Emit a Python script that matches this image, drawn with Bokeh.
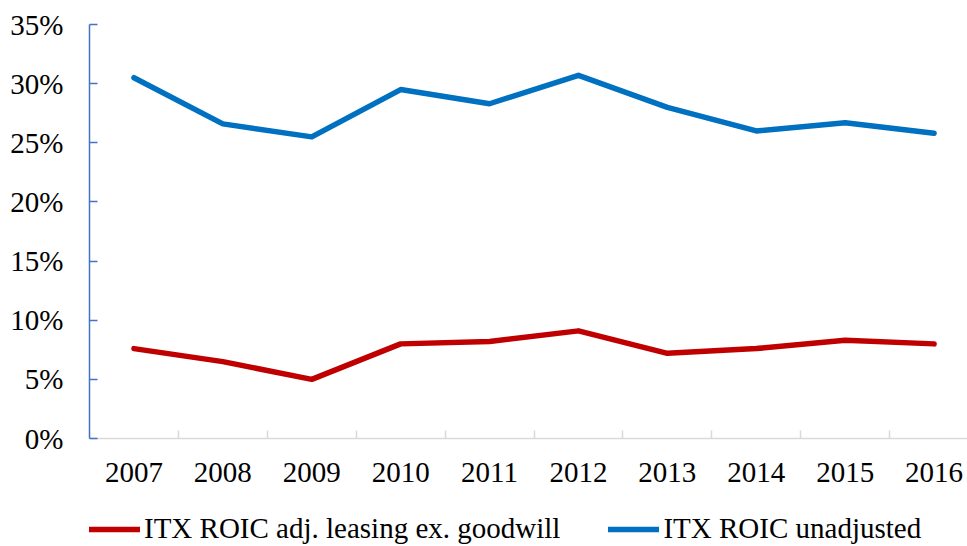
from bokeh.plotting import figure
from bokeh.models import (Range1d, FixedTicker, NumeralTickFormatter, Legend,
                          LegendItem, BasicTickFormatter)
from bokeh.embed import file_html
from bokeh.resources import INLINE

# ROIC by fiscal year
years = [2007, 2008, 2009, 2010, 2011, 2012, 2013, 2014, 2015, 2016]
roic_adj_leasing = [0.076, 0.065, 0.050, 0.080, 0.082, 0.091, 0.072, 0.076, 0.083, 0.080]
roic_unadjusted = [0.305, 0.266, 0.255, 0.295, 0.283, 0.307, 0.280, 0.260, 0.267, 0.258]
y_ticks = [0.0, 0.05, 0.10, 0.15, 0.20, 0.25, 0.30, 0.35]

FONT = "Liberation Serif"
RED = "#C00000"
BLUE = "#0070C0"

# The frame runs to the bottom edge; the lower strip (below 0%) holds the
# year labels and the legend, while the axes are bounded to the data area.
p = figure(frame_width=878, frame_height=522, output_backend="svg", toolbar_location=None,
           x_range=Range1d(2006.5, 2016.376), y_range=Range1d(-0.0913, 0.35),
           min_border_left=89, min_border_right=0, min_border_top=24,
           min_border_bottom=0)
p.outline_line_color = None
p.background_fill_color = "white"
p.border_fill_color = "white"
p.xgrid.visible = False
p.ygrid.visible = False

r_red = p.line(years, roic_adj_leasing, line_color=RED, line_width=5.5,
               line_cap="round", line_join="round")
r_blue = p.line(years, roic_unadjusted, line_color=BLUE, line_width=5.5,
                line_cap="round", line_join="round")

# y axis: percentage labels, inward ticks
ya = p.yaxis[0]
ya.ticker = FixedTicker(ticks=y_ticks)
ya.bounds = (0, 0.35)
ya.formatter = NumeralTickFormatter(format="0%")
ya.axis_line_color = "#4472C4"
ya.axis_line_width = 1.5
ya.major_tick_line_color = "#4472C4"
ya.major_tick_line_width = 1.5
ya.major_tick_in = 8
ya.major_tick_out = 0
ya.minor_tick_line_color = None
ya.major_label_text_font = FONT
ya.major_label_text_font_size = "29px"
ya.major_label_text_color = "black"
ya.major_label_standoff = 26

# x axis sits on the 0% line: year labels centred, tick marks between years
xa = p.xaxis[0]
xa.fixed_location = 0
half_steps = [y - 0.5 for y in years] + [years[-1] + 0.5]
xa.ticker = FixedTicker(ticks=years, minor_ticks=half_steps)
xa.formatter = BasicTickFormatter(use_scientific=False)
xa.axis_line_color = "#D9D9D9"
xa.axis_line_width = 1.5
xa.major_tick_line_color = None
xa.minor_tick_line_color = "#D9D9D9"
xa.minor_tick_line_width = 1.5
xa.minor_tick_in = 8
xa.minor_tick_out = 0
xa.major_label_text_font = FONT
xa.major_label_text_font_size = "29px"
xa.major_label_text_color = "black"
xa.major_label_standoff = 18

legend = Legend(items=[LegendItem(label="ITX ROIC adj. leasing ex. goodwill", renderers=[r_red]),
                       LegendItem(label="ITX ROIC unadjusted", renderers=[r_blue])],
                orientation="horizontal", location=(0, 1),
                label_text_font=FONT, label_text_font_size="29px",
                label_text_color="black", glyph_width=51, glyph_height=20,
                label_standoff=4, spacing=48, padding=0, margin=0,
                border_line_color=None, background_fill_alpha=0)
p.add_layout(legend, "center")

open("out.html", "w").write(file_html(p, INLINE))
